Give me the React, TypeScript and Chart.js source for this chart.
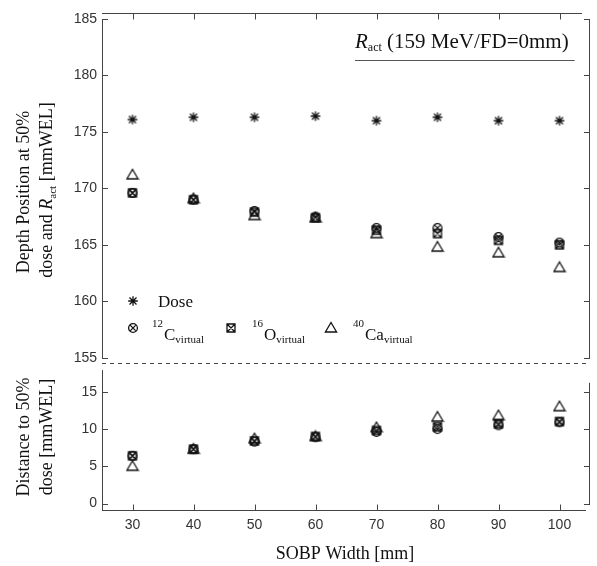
import React, { useEffect, useRef } from 'react';
import { Chart, registerables } from 'chart.js';

Chart.register(...registerables);

// ---- data ----
const sobpWidths = [30, 40, 50, 60, 70, 80, 90, 100];
const doseDepth = [176.1, 176.3, 176.3, 176.4, 176.0, 176.3, 176.0, 176.0];
const c12Depth = [169.6, 169.0, 168.0, 167.5, 166.5, 166.5, 165.7, 165.2];
const o16Depth = [169.6, 169.0, 167.9, 167.4, 166.3, 166.0, 165.4, 165.0];
const ca40Depth = [171.2, 169.1, 167.6, 167.4, 166.0, 164.8, 164.3, 163.0];
const c12Dist = [6.4, 7.3, 8.3, 8.9, 9.6, 10.0, 10.5, 10.9];
const o16Dist = [6.4, 7.3, 8.4, 9.0, 9.8, 10.3, 10.7, 11.0];
const ca40Dist = [5.0, 7.3, 8.7, 9.0, 10.2, 11.6, 11.8, 13.0];

const xTicks = [30, 40, 50, 60, 70, 80, 90, 100];
const topTicks = [155, 160, 165, 170, 175, 180, 185];
const bottomTicks = [0, 5, 10, 15];

const SERIF = "'Liberation Serif', 'Times New Roman', serif";
const SANS = "'Liberation Sans', Arial, sans-serif";
const INK = '#111';
const AXIS = '#444';

type Kind = 'star' | 'circleX' | 'squareX' | 'triangle';

function drawShape(g: CanvasRenderingContext2D, kind: Kind, cx: number, cy: number) {
  g.beginPath();
  if (kind === 'star') {
    const r = 4.8, d = 3.5;
    g.moveTo(cx - r, cy); g.lineTo(cx + r, cy);
    g.moveTo(cx, cy - r); g.lineTo(cx, cy + r);
    g.moveTo(cx - d, cy - d); g.lineTo(cx + d, cy + d);
    g.moveTo(cx - d, cy + d); g.lineTo(cx + d, cy - d);
  } else if (kind === 'circleX') {
    g.arc(cx, cy, 4.4, 0, Math.PI * 2);
    g.moveTo(cx - 2.6, cy - 2.6); g.lineTo(cx + 2.6, cy + 2.6);
    g.moveTo(cx - 2.6, cy + 2.6); g.lineTo(cx + 2.6, cy - 2.6);
  } else if (kind === 'squareX') {
    g.rect(cx - 4, cy - 4, 8, 8);
    g.moveTo(cx - 4, cy - 4); g.lineTo(cx + 4, cy + 4);
    g.moveTo(cx - 4, cy + 4); g.lineTo(cx + 4, cy - 4);
  } else {
    g.moveTo(cx, cy - 5.5);
    g.lineTo(cx + 5.6, cy + 4);
    g.lineTo(cx - 5.6, cy + 4);
    g.closePath();
  }
  g.stroke();
}

function makeMarker(kind: Kind): HTMLCanvasElement {
  const c = document.createElement('canvas');
  c.width = 14; c.height = 14;
  const g = c.getContext('2d')!;
  g.strokeStyle = INK;
  g.lineWidth = 1.3;
  drawShape(g, kind, 7, 7);
  return c;
}

type Run = { text: string; font: string; dy?: number };

function drawRuns(ctx: CanvasRenderingContext2D, runs: Run[], x: number, y: number, align: 'left' | 'center') {
  const widths = runs.map(r => { ctx.font = r.font; return ctx.measureText(r.text).width; });
  const total = widths.reduce((a, b) => a + b, 0);
  let cx = align === 'center' ? x - total / 2 : x;
  ctx.textAlign = 'left';
  ctx.textBaseline = 'alphabetic';
  runs.forEach((r, i) => {
    ctx.font = r.font;
    ctx.fillText(r.text, cx, y + (r.dy || 0));
    cx += widths[i];
  });
  return total;
}

function pts(ys: number[]) {
  return sobpWidths.map((x, i) => ({ x, y: ys[i] }));
}

export default function App() {
  const ref = useRef<HTMLCanvasElement | null>(null);

  useEffect(() => {
    if (!ref.current) return;
    const mk = {
      star: makeMarker('star'),
      circleX: makeMarker('circleX'),
      squareX: makeMarker('squareX'),
      triangle: makeMarker('triangle'),
    };

    const decor = {
      id: 'decor',
      afterDraw(chart: any) {
        const ctx: CanvasRenderingContext2D = chart.ctx;
        const xs = chart.scales.x;
        const yT = chart.scales.yTop;
        const yB = chart.scales.yBot;
        const L = chart.chartArea.left;
        const R = chart.chartArea.right;
        const line = (x1: number, y1: number, x2: number, y2: number) => {
          ctx.beginPath(); ctx.moveTo(x1, y1); ctx.lineTo(x2, y2); ctx.stroke();
        };
        ctx.save();
        ctx.strokeStyle = AXIS;
        ctx.lineWidth = 1;

        // top border with downward ticks
        const topY = Math.round(yT.top) + 0.5;
        line(L, topY, R - 8, topY);
        xTicks.forEach(v => {
          const px = Math.round(xs.getPixelForValue(v)) + 0.5;
          line(px, topY, px, topY + 6);
        });

        // upper panel side axes
        const lx = L + 0.5, rx = R - 0.5;
        line(lx, yT.getPixelForValue(185), lx, yT.getPixelForValue(155) + 0.5);
        line(rx, yT.getPixelForValue(185), rx, yT.getPixelForValue(155) + 0.5);
        topTicks.forEach(v => {
          const py = Math.round(yT.getPixelForValue(v)) + 0.5;
          line(L, py, L + 6, py);
          line(R - 6, py, R, py);
        });

        // dashed separator
        ctx.setLineDash([4, 4]);
        const sepY = Math.round(yT.bottom) + 0.5;
        line(L, sepY, R, sepY);
        ctx.setLineDash([]);

        // lower panel
        const botY = Math.round(yB.bottom) - 0.5;
        line(lx, yB.getPixelForValue(17.9), lx, botY);
        line(rx, yB.getPixelForValue(16.2), rx, yB.getPixelForValue(0) + 0.5);
        line(L, botY, R - 4, botY);
        bottomTicks.forEach(v => {
          const py = Math.round(yB.getPixelForValue(v)) + 0.5;
          line(L, py, L + 6, py);
          line(R - 6, py, R, py);
        });
        xTicks.forEach(v => {
          const px = Math.round(xs.getPixelForValue(v)) + 0.5;
          line(px, botY, px, botY - 6);
        });

        // texts
        ctx.fillStyle = INK;
        // title box
        const tw = drawRuns(ctx, [
          { text: 'R', font: `italic 21px ${SERIF}` },
          { text: 'act', font: `12px ${SERIF}`, dy: 3 },
          { text: ' (159 MeV/FD=0mm)', font: `21px ${SERIF}` },
        ], 355, 48, 'left');
        ctx.strokeStyle = '#555';
        line(355, 60.5, 355 + tw + 6, 60.5);

        // y titles (rotated)
        const vtext = (runs: Run[], bx: number, cy: number) => {
          ctx.save();
          ctx.translate(bx, cy);
          ctx.rotate(-Math.PI / 2);
          drawRuns(ctx, runs, 0, 0, 'center');
          ctx.restore();
        };
        const f18 = `18px ${SERIF}`;
        vtext([{ text: 'Depth Position at 50%', font: f18 }], 29, 192);
        vtext([
          { text: 'dose and ', font: f18 },
          { text: 'R', font: `italic 18px ${SERIF}` },
          { text: 'act', font: `11px ${SERIF}`, dy: 4 },
          { text: ' [mmWEL]', font: f18 },
        ], 52, 190);
        vtext([{ text: 'Distance to 50%', font: f18 }], 29, 437);
        vtext([{ text: 'dose [mmWEL]', font: f18 }], 52, 437);

        // x title
        drawRuns(ctx, [{ text: 'SOBP Width [mm]', font: f18 }], 345, 559, 'center');

        // legend
        const drawMk = (c: HTMLCanvasElement, x: number, y: number) => ctx.drawImage(c, x - 7, y - 7);
        drawMk(mk.star, 133, 301);
        drawRuns(ctx, [{ text: 'Dose', font: `17px ${SERIF}` }], 158, 307, 'left');
        const entry = (c: HTMLCanvasElement, mx: number, iso: string, el: string, tx: number) => {
          drawMk(c, mx, 328);
          drawRuns(ctx, [{ text: iso, font: `11px ${SERIF}` }], tx, 327, 'left');
          ctx.font = `11px ${SERIF}`;
          const iw = ctx.measureText(iso).width;
          drawRuns(ctx, [
            { text: el, font: `17px ${SERIF}` },
            { text: 'virtual', font: `11px ${SERIF}`, dy: 3 },
          ], tx + iw + 1, 340, 'left');
        };
        entry(mk.circleX, 133, '12', 'C', 152);
        entry(mk.squareX, 231, '16', 'O', 252);
        entry(mk.triangle, 331, '40', 'Ca', 353);

        ctx.restore();
      },
    };

    const mkDs = (label: string, data: { x: number; y: number }[], style: HTMLCanvasElement, axis: string) => ({
      label,
      data,
      yAxisID: axis,
      pointStyle: style,
      pointRadius: 5,
      borderColor: INK,
      backgroundColor: INK,
      showLine: false,
    });

    const tickFont = { family: SANS, size: 14 };

    const chart = new Chart(ref.current, {
      type: 'scatter',
      data: {
        datasets: [
          mkDs('Dose', pts(doseDepth), mk.star, 'yTop'),
          mkDs('12C virtual', pts(c12Depth), mk.circleX, 'yTop'),
          mkDs('16O virtual', pts(o16Depth), mk.squareX, 'yTop'),
          mkDs('40Ca virtual', pts(ca40Depth), mk.triangle, 'yTop'),
          mkDs('12C virtual distance', pts(c12Dist), mk.circleX, 'yBot'),
          mkDs('16O virtual distance', pts(o16Dist), mk.squareX, 'yBot'),
          mkDs('40Ca virtual distance', pts(ca40Dist), mk.triangle, 'yBot'),
        ],
      },
      options: {
        animation: false,
        responsive: false,
        layout: { padding: { left: 0, right: 7, top: 12, bottom: 0 } },
        plugins: { legend: { display: false }, tooltip: { enabled: false } },
        scales: {
          x: {
            type: 'linear',
            position: 'bottom',
            min: 25,
            max: 105,
            grid: { display: false, drawTicks: false },
            border: { display: false },
            ticks: { font: tickFont, color: '#333', padding: 6 },
            afterBuildTicks: (s: any) => { s.ticks = xTicks.map(v => ({ value: v })); },
            afterFit: (s: any) => { s.height = 55; },
          },
          yBot: {
            type: 'linear',
            position: 'left',
            stack: 'panels',
            stackWeight: 148,
            min: -1,
            max: 18.8,
            grid: { display: false, drawTicks: false },
            border: { display: false },
            ticks: { font: tickFont, color: '#333', padding: 5 },
            afterBuildTicks: (s: any) => { s.ticks = bottomTicks.map(v => ({ value: v })); },
            afterFit: (s: any) => { s.width = 102; },
          },
          yTop: {
            type: 'linear',
            position: 'left',
            stack: 'panels',
            stackWeight: 351,
            min: 154.5,
            max: 185.5,
            grid: { display: false, drawTicks: false },
            border: { display: false },
            ticks: { font: tickFont, color: '#333', padding: 5 },
            afterBuildTicks: (s: any) => { s.ticks = topTicks.map(v => ({ value: v })); },
            afterFit: (s: any) => { s.width = 102; },
          },
        },
      } as any,
      plugins: [decor],
    });

    return () => chart.destroy();
  }, []);

  return (
    <div style={{ position: 'fixed', left: 0, top: 0, width: 597, height: 566, background: '#fff' }}>
      <canvas ref={ref} width={597} height={566} style={{ width: 597, height: 566, display: 'block' }} />
    </div>
  );
}
